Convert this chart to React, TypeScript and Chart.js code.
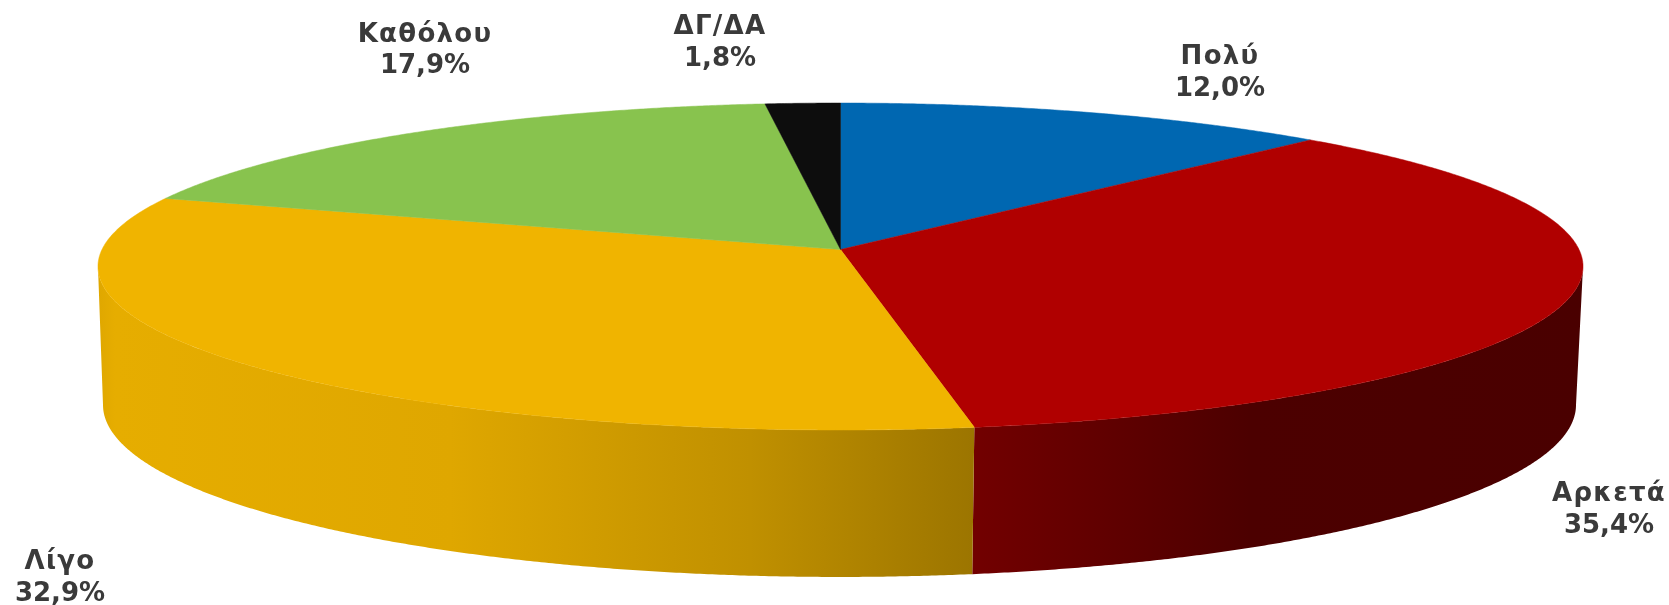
import React, { useEffect, useRef } from "react";
import { Chart, registerables, ArcElement, PieController } from "chart.js";

const categories = ["Πολύ", "Αρκετά", "Λίγο", "Καθόλου", "ΔΓ/ΔΑ"];
const shares = [12.0, 35.4, 32.9, 17.9, 1.8];
const sliceColors = ["#0067B1", "#B00000", "#F0B400", "#88C34E", "#0D0D0D"];
const labelAnchors = [
  [1220, 57, 89],
  [1609, 494, 526],
  [60, 562, 594],
  [425, 35, 66],
  [720, 27, 59],
];

const W = 1669;
const H = 605;
const P = 0.104;
const TOP = { cx: 840.5, cy: 249.5, rx: 738.5, ry: 161.7 };
const BOTTOM = { cx: 839.5, cy: 387.1, rx: 732.5, ry: 170.1 };
const WALL_SHADE: [number, number][] = [
  [98, 0.93],
  [115, 0.96],
  [450, 0.93],
  [750, 0.8],
  [973, 0.65],
  [1100, 0.55],
  [1250, 0.43],
  [1590, 0.42],
];

type Disc = typeof TOP;
const project = (d: Disc, a: number) => {
  const x = Math.cos(a);
  const y = Math.sin(a);
  const f = 1 / (1 - P * y);
  return [d.cx + d.rx * x * f, d.cy + d.ry * y * f];
};

const tracePoints = (ctx: CanvasRenderingContext2D, d: Disc, a0: number, a1: number, move: boolean) => {
  const n = Math.max(2, Math.ceil(Math.abs(a1 - a0) / 0.005));
  for (let i = 0; i <= n; i++) {
    const [px, py] = project(d, a0 + ((a1 - a0) * i) / n);
    if (i === 0 && move) ctx.moveTo(px, py);
    else ctx.lineTo(px, py);
  }
};

class Arc3D extends ArcElement {
  static id = "arc3d";
  static defaults = ArcElement.defaults;
  static defaultRoutes = ArcElement.defaultRoutes;
  draw(ctx: CanvasRenderingContext2D) {
    const { startAngle, endAngle } = this as any;
    const options = (this as any).options;
    ctx.save();
    ctx.beginPath();
    ctx.moveTo(TOP.cx, TOP.cy);
    tracePoints(ctx, TOP, startAngle, endAngle, false);
    ctx.closePath();
    ctx.fillStyle = options.backgroundColor;
    ctx.strokeStyle = options.backgroundColor;
    ctx.lineWidth = 0.5;
    ctx.fill();
    ctx.stroke();
    ctx.restore();
  }
}

class Pie3DController extends PieController {
  static id = "pie3d";
  static defaults = { ...PieController.defaults, dataElementType: "arc3d" };
  static overrides = PieController.overrides;
}

const hexRgb = (hex: string) => [1, 3, 5].map((i) => parseInt(hex.slice(i, i + 2), 16));

const wallsPlugin = {
  id: "walls",
  beforeDatasetsDraw(chart: any) {
    const ctx: CanvasRenderingContext2D = chart.ctx;
    const meta = chart.getDatasetMeta(0);
    const lim = Math.asin(P);
    meta.data.forEach((arc: any, i: number) => {
      const a0 = Math.max(arc.startAngle, lim);
      const a1 = Math.min(arc.endAngle, Math.PI - lim);
      if (a0 >= a1) return;
      const [r, g, b] = hexRgb(sliceColors[i]);
      const gx0 = WALL_SHADE[0][0];
      const gx1 = WALL_SHADE[WALL_SHADE.length - 1][0];
      const grad = ctx.createLinearGradient(gx0, 0, gx1, 0);
      WALL_SHADE.forEach(([x, s]) => {
        grad.addColorStop((x - gx0) / (gx1 - gx0), `rgb(${r * s},${g * s},${b * s})`);
      });
      ctx.save();
      ctx.beginPath();
      tracePoints(ctx, TOP, a0, a1, true);
      tracePoints(ctx, BOTTOM, a1, a0, false);
      ctx.closePath();
      ctx.fillStyle = grad;
      ctx.fill();
      ctx.restore();
    });
  },
};

const labelsPlugin = {
  id: "sliceLabels",
  afterDatasetsDraw(chart: any) {
    const ctx: CanvasRenderingContext2D = chart.ctx as any;
    const labels: string[] = chart.data.labels;
    const values: number[] = chart.data.datasets[0].data;
    ctx.save();
    ctx.font = 'bold 26px "DejaVu Sans"';
    ctx.fillStyle = "#3A3A3A";
    ctx.textAlign = "center";
    ctx.textBaseline = "middle";
    labels.forEach((label, i) => {
      const [x, y1, y2] = labelAnchors[i];
      (ctx as any).letterSpacing = "1.3px";
      ctx.fillText(label, x, y1);
      (ctx as any).letterSpacing = "0px";
      ctx.fillText(values[i].toFixed(1).replace(".", ",") + "%", x, y2);
    });
    ctx.restore();
  },
};

Chart.register(...registerables, Arc3D as any, Pie3DController as any);

export default function App() {
  const ref = useRef<HTMLCanvasElement>(null);
  useEffect(() => {
    document.body.style.margin = "0";
    const chart = new Chart(ref.current!, {
      type: "pie3d" as any,
      data: {
        labels: categories,
        datasets: [{ data: shares, backgroundColor: sliceColors, borderWidth: 0 }],
      },
      options: {
        responsive: false,
        animation: false,
        plugins: { legend: { display: false }, tooltip: { enabled: false } },
      } as any,
      plugins: [wallsPlugin, labelsPlugin],
    });
    return () => chart.destroy();
  }, []);
  return (
    <canvas
      ref={ref}
      width={W}
      height={H}
      style={{ display: "block", width: W, height: H, background: "#fff", filter: "blur(0.5px)" }}
    />
  );
}
